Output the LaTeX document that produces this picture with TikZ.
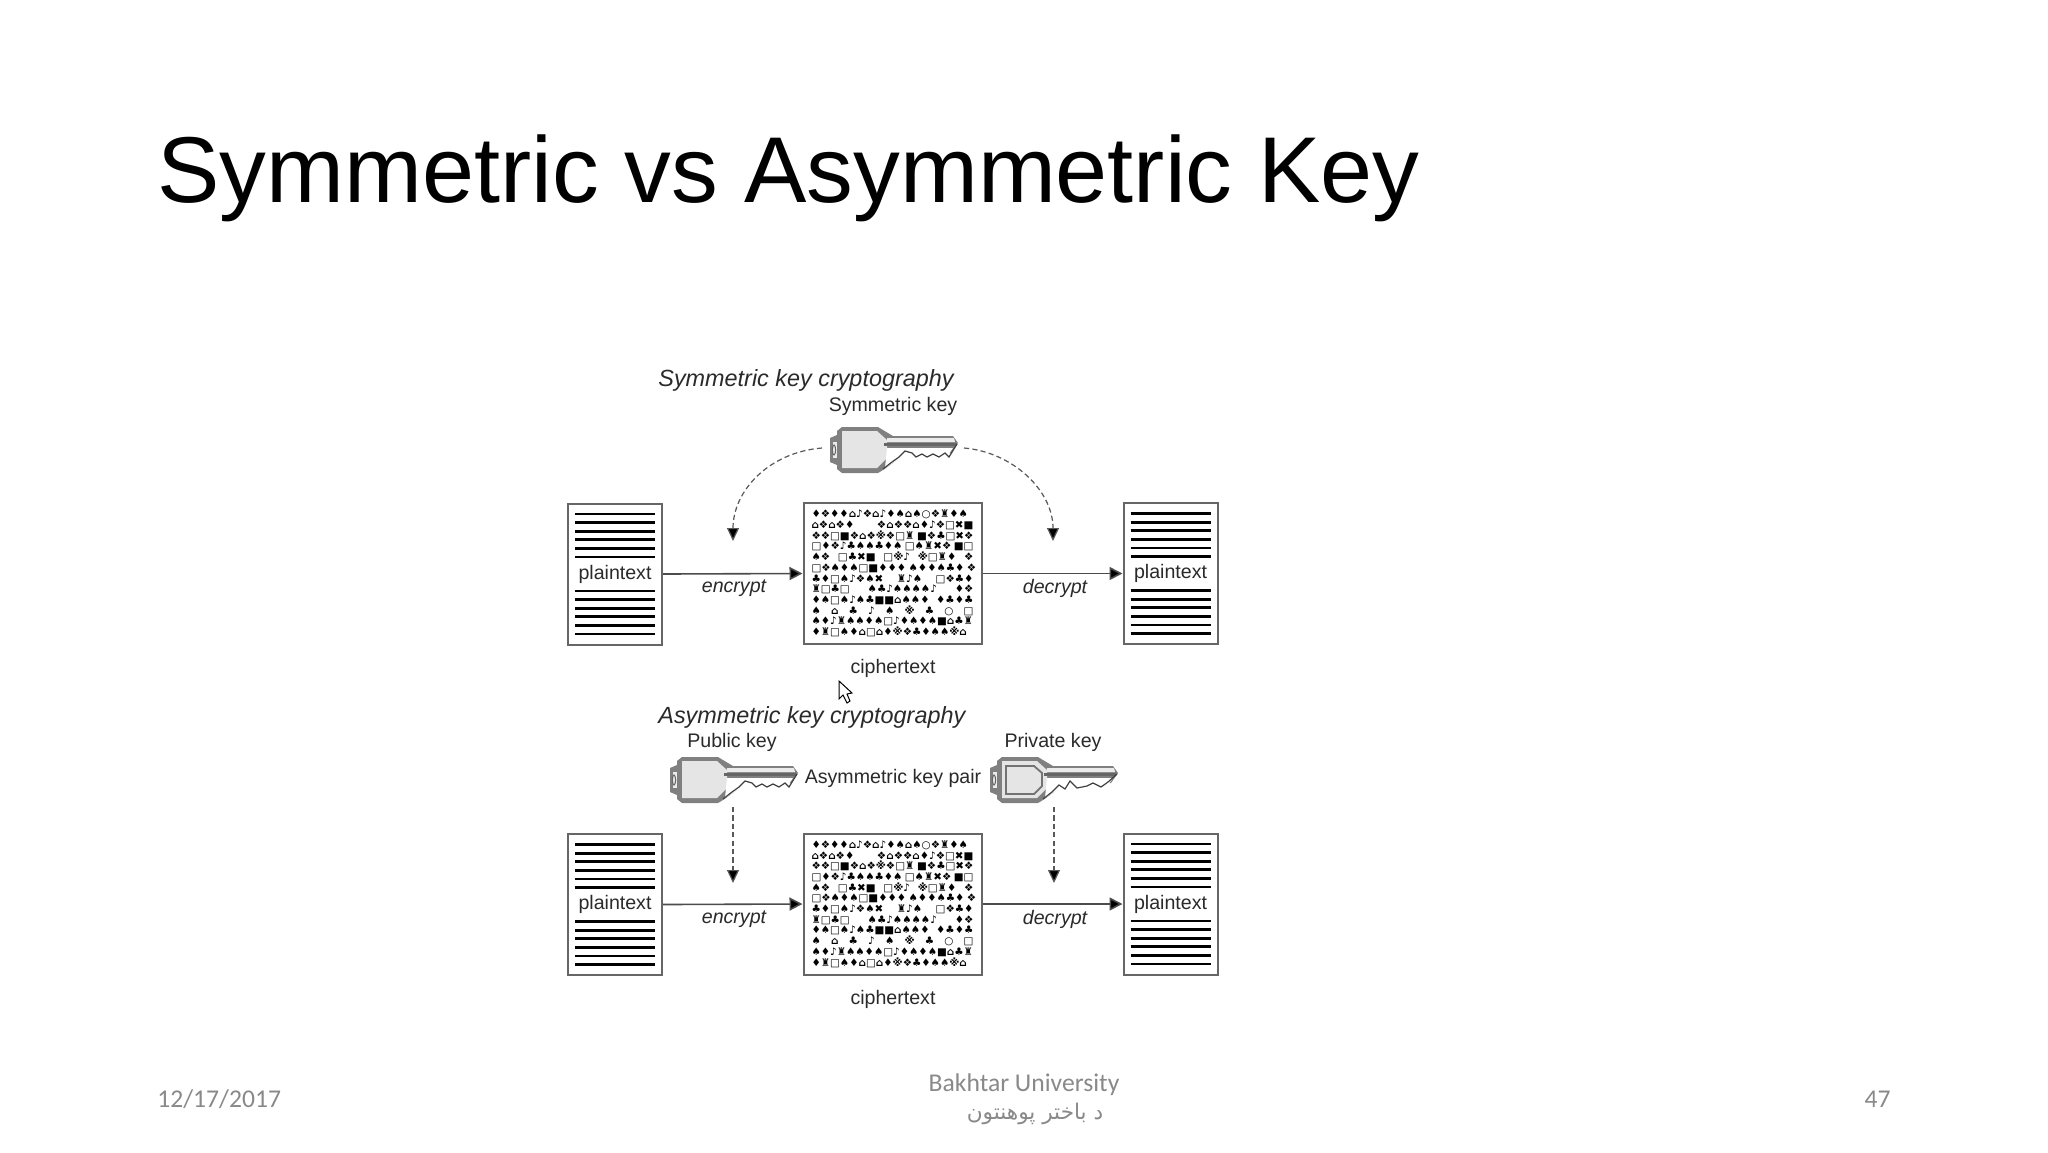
\documentclass[tikz,border=0pt]{standalone}
\usepackage{fontspec}
\usetikzlibrary{arrows.meta}
\setmainfont{Liberation Sans}
\newfontfamily\arabicfont[Script=Arabic]{DejaVu Sans}
\newfontfamily\footfont{Carlito}
\newfontfamily\glyphfont{DejaVu Sans Bold}
\TeXXeTstate=1
\definecolor{footgray}{HTML}{898989}
\definecolor{inktext}{HTML}{2A2A2A}
\newcommand\crow[1]{\hbox to 81pt{\spaceskip=1.2pt plus 1fil\relax #1}}
\newcommand\cipherblock{\vbox{\fontsize{5.2}{5.35}\selectfont\glyphfont\baselineskip=5.35pt\lineskip=0pt\lineskiplimit=-10pt
\crow{♦❖♦♦⌂♪❖⌂♪♦♠⌂♠○❖♜♦♠}
\crow{⌂❖⌂❖♦ ❖⌂❖❖⌂♦♪❖□✖■}
\crow{❖❖□■❖⌂❖※❖□♜ ■❖♣□✖❖}
\crow{□♦❖♪♣♠♠♣♦♠ □♠♜✖❖ ■□}
\crow{♠❖ □♣✖■ □※♪ ※□♜♦ ❖}
\crow{□❖♠♦♠□■♦♦♦ ♠♦♦♠♣♦ ❖}
\crow{♣♦□♠♪❖♠✖ ♜♪♠ □❖♣♦}
\crow{♜□♣□ ♠♣♪♠♠♠♠♪ ♦❖}
\crow{♦♠□♠♪♠♣■■⌂♠♠♦ ♦♣♦♣}
\crow{♠ ⌂ ♣ ♪ ♠ ※ ♣ ○ □}
\crow{♠♦♪♜♠♠♦♠□♪♦♠♦♠■⌂♣♜}
\crow{♦♜□♠♦⌂□⌂♦※❖♣♦♠♠※⌂\hskip6pt}
}}
\tikzset{
  x=.5pt,y=-.5pt,
  docbox/.style={draw=black!60,line width=1pt,fill=white,minimum width=47pt,minimum height=70.5pt,inner sep=0pt},
  cipherbox/.style={draw=black!60,line width=1pt,fill=white,minimum width=89pt,minimum height=70.5pt,inner sep=0pt},
  ruleline/.style={black,line width=1.4pt},
  lbl/.style={font=\fontsize{9.8}{11}\selectfont,text=inktext,inner sep=0pt},
  ilbl/.style={font=\fontsize{9.8}{11}\selectfont\itshape,text=inktext,inner sep=0pt},
  headlbl/.style={font=\fontsize{11.7}{13}\selectfont\itshape,text=inktext,inner sep=0pt},
  foot/.style={font=\fontsize{12.8}{14}\selectfont\footfont,text=footgray,inner sep=0pt},
  flow/.style={draw=black!70,line width=.8pt,-{Triangle[length=6.5pt,width=6.5pt,fill=black]}},
  keylink/.style={draw=black!65,line width=.6pt,dash pattern=on 2.6pt off 1.6pt,-{Triangle[length=6.5pt,width=6pt,fill=black]}},
  keybody/.pic={
    \fill[black!50] (-7,-12) -- (0,-15) -- (0,15) -- (-7,12) -- cycle;
    \fill[black!8] (-4,-8) rectangle (0,8);
    \draw[black!60,line width=.5pt] (-3,0) ellipse (1.6 and 5);
    \fill[black!50] (0,-19) -- (5,-23) -- (41,-23) -- (56,-14) -- (116,-14) -- (121,-7) -- (114,3) -- (70,3) -- (46,20) -- (41,23) -- (5,23) -- (0,19) -- cycle;
    \fill[black!10] (5,-19) -- (40,-19) -- (50,-10) -- (50,8) -- (40,18) -- (5,18) -- cycle;
    \fill[black!8] (50,-12) -- (117,-12) -- (118,-8) -- (50,-8) -- cycle;
    \fill[white] (50,-2) -- (116,-2) -- (111,5) -- (70,4) -- (48,18) -- cycle;
    \draw[black!60,line width=1.5pt] (47,-6) -- (119,-6);
  },
  keycutA/.pic={
    \draw[black!75,line width=.6pt] (46,19) -- (55,12) -- (62,7) -- (68,1) -- (75,3) -- (79,7) -- (85,4) -- (90,7) -- (96,4) -- (102,7) -- (108,3) -- (112,7) -- (120,-6);
  },
  keycutB/.pic={
    \draw[black!75,line width=.6pt] (46,19) -- (55,12) -- (62,5) -- (68,9) -- (73,1) -- (80,8) -- (90,6) -- (96,3) -- (104,7) -- (111,2) -- (120,-6);
    \draw[black!55,line width=.9pt] (9,-14) -- (37,-14) -- (45,-7) -- (45,6) -- (37,14) -- (9,14) -- cycle;
  },
}
\newcommand\docsheet[3]{%
  \node[docbox] (#1) at (#2,#3) {};
  \begin{scope}[shift={(#2,#3)}]
    \foreach \d in {0,...,5} {
      \draw[ruleline] (-40,{-60+8.6*\d}) -- (40,{-60+8.6*\d});
      \draw[ruleline] (-40,{17+8.6*\d}) -- (40,{17+8.6*\d});
    }
  \end{scope}
  \node[lbl] (#1text) at (#2,#3) {plaintext};
}
\begin{document}
\begin{tikzpicture}
\useasboundingbox (0,0) rectangle (2048,1152);
\fill[white] (0,0) rectangle (2048,1152);

\node[anchor=base west,inner sep=0pt,font=\fontsize{46.75}{50}\selectfont,text=black] (title) at (157,202) {Symmetric vs Asymmetric Key};

% upper diagram
\node[headlbl,anchor=west] (symhead) at (658,380.5) {Symmetric key cryptography};
\node[lbl] (symlabel) at (893,406) {Symmetric key};
\pic at (837,450) {keybody};
\pic at (837,450) {keycutA};
\coordinate (symkeyL) at (822,448);
\coordinate (symkeyR) at (964,448);
\coordinate (symencT) at (733,541);
\coordinate (symdecT) at (1053,541);
\draw[keylink] (symkeyL) .. controls (770,452) and (733,490) .. (symencT);
\draw[keylink] (symkeyR) .. controls (1012,452) and (1053,490) .. (symdecT);

\docsheet{pA}{615}{574}
\node[cipherbox] (cA) at (892.5,573.5) {\cipherblock};
\docsheet{pB}{1170.5}{573.5}
\draw[flow] (pA.east) -- (cA.west);
\draw[flow] (cA.east) -- (pB.west);
\node[ilbl] (encA) at (734,588) {encrypt};
\node[ilbl] (decA) at (1055,588) {decrypt};
\node[lbl] (ciphA) at (893,668) {ciphertext};

% pointer
\draw[black,fill=white,line width=.5pt] (839,681) -- (839,699) -- (843,695) -- (847,703) -- (850,701) -- (847,694) -- (852,693) -- cycle;

% lower diagram
\node[headlbl,anchor=west] (asymhead) at (658,717.5) {Asymmetric key cryptography};
\node[lbl] (publabel) at (732,742) {Public key};
\node[lbl] (privlabel) at (1053,742) {Private key};
\node[lbl] (pairlabel) at (893,778) {Asymmetric key pair};
\pic at (677,780) {keybody};
\pic at (677,780) {keycutA};
\pic at (997,780) {keybody};
\pic at (997,780) {keycutB};
\coordinate (pubkeyB) at (733,807);
\coordinate (privkeyB) at (1054,807);
\coordinate (pubT) at (733,883);
\coordinate (privT) at (1054,883);
\draw[keylink] (pubkeyB) -- (pubT);
\draw[keylink] (privkeyB) -- (privT);

\docsheet{pC}{615}{904.5}
\node[cipherbox] (cB) at (892.5,904) {\cipherblock};
\docsheet{pD}{1170.5}{904}
\draw[flow] (pC.east) -- (cB.west);
\draw[flow] (cB.east) -- (pD.west);
\node[ilbl] (encB) at (734,919) {encrypt};
\node[ilbl] (decB) at (1055,919) {decrypt};
\node[lbl] (ciphB) at (893,999) {ciphertext};

% footer
\node[foot,anchor=west] (date) at (157,1099) {12/17/2017};
\node[foot] (uni) at (1024,1085) {Bakhtar University};
\node[foot,font=\fontsize{10.8}{13}\selectfont\arabicfont] (uniar) at (1035,1114) {\beginR د باختر پوهنتون\endR};
\node[foot,anchor=east] (page) at (1891,1099) {47};
\end{tikzpicture}
\end{document}
